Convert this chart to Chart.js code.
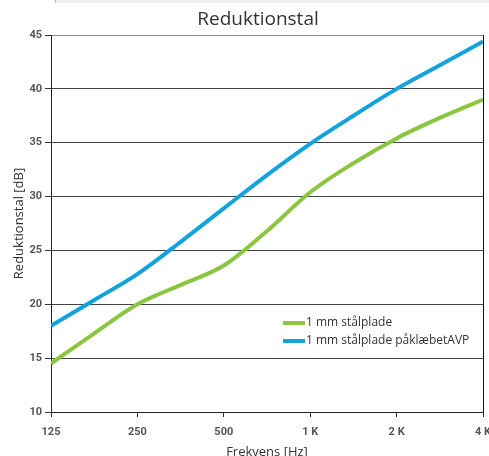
<!DOCTYPE html>
<html>
<head>
<meta charset="utf-8">
<script src="https://cdn.jsdelivr.net/npm/chart.js@4/dist/chart.umd.min.js"></script>
<style>
  body { margin: 0; background: #fff; }
  #wrap { position: relative; width: 489px; height: 456px; }
  #strip { position: absolute; left: 55px; top: 0; width: 434px; height: 3px; background: #f0efed; border-left: 1px solid #bbb; }
</style>
</head>
<body>
<div id="wrap">
  <div id="strip"></div>
  <canvas id="chart" width="489" height="456"></canvas>
</div>
<script>
// Frekvenser (Hz) og maalte vaerdier (dB)
var frekvenser = [125, 177, 250, 354, 500, 707, 1000, 1414, 2000, 2828, 4000];
var staalplade = [14.5, 17.3, 20.0, 21.8, 23.6, 26.8, 30.4, 33.1, 35.4, 37.3, 39.0];
var staalpladeAVP = [18.0, 20.4, 22.8, 25.8, 28.9, 32.0, 34.9, 37.5, 40.0, 42.2, 44.4];
var xTicks = [125, 250, 500, 1000, 2000, 4000];
var serieNavne = ["1 mm stålplade", "1 mm stålplade påklæbetAVP"];
var titel = "Reduktionstal";

function punkter(values) {
    return values.map((v, i) => ({ x: frekvenser[i], y: v }));
}

//Titel og legend tegnes selv
var tekstPlugin = {
    id: "tekster",
    afterDraw(chart) {
        var ctx = chart.ctx;
        ctx.save();
        ctx.fillStyle = "#333";
        ctx.textAlign = "center";
        ctx.textBaseline = "middle";
        ctx.font = "19px 'Open Sans'";
        ctx.fillText(titel, 258, 20);
        ctx.textAlign = "left";
        ctx.font = "12px 'Open Sans'";
        chart.data.datasets.forEach((ds, i) => {
            var y = 323 + i * 18;
            ctx.fillStyle = ds.borderColor;
            ctx.fillRect(283, y - 2, 22, 4);
            ctx.fillStyle = "#333";
            ctx.fillText(ds.label, 306, y);
        });
        ctx.restore();
    }
};

new Chart(document.getElementById("chart"), {
    type: "line",
    data: {
        datasets: [{
            label: serieNavne[0],
            data: punkter(staalplade),
            borderColor: "#8cc540",
            borderWidth: 4,
            pointRadius: 0,
            cubicInterpolationMode: "monotone"
        }, {
            label: serieNavne[1],
            data: punkter(staalpladeAVP),
            borderColor: "#12a3dc",
            borderWidth: 4,
            pointRadius: 0,
            cubicInterpolationMode: "monotone"
        }]
    },
    options: {
        responsive: false,
        animation: false,
        layout: { padding: { left: 0, right: 6, top: 35, bottom: 0 } },
        plugins: {
            legend: { display: false },
            tooltip: { enabled: false },
            title: { display: false }
        },
        scales: {
            x: {
                type: "logarithmic",
                min: 125,
                max: 4000,
                afterBuildTicks: scale => { scale.ticks = xTicks.map(v => ({ value: v })); },
                afterFit: scale => {
                    scale.height = 44;
                    scale.paddingRight = 0;
                    scale.paddingLeft = 0;
                },
                ticks: {
                    color: "#555",
                    font: { family: "Roboto", size: 11, weight: "bold" },
                    padding: 9,
                    maxRotation: 0,
                    callback: v => v >= 1000 ? (v / 1000) + " K" : v
                },
                grid: {
                    color: c => c.index === xTicks.length - 1 ? "#111" : "rgba(0,0,0,0)",
                    tickColor: "#333",
                    tickLength: 5
                },
                border: { color: "#222" },
                title: {
                    display: true,
                    text: "Frekvens [Hz]",
                    color: "#333",
                    font: { family: "'Open Sans'", size: 13 },
                    padding: { top: 0, bottom: -4 }
                }
            },
            y: {
                min: 10,
                max: 45,
                afterFit: scale => {
                    scale.width = 51;
                    scale.paddingTop = 0;
                    scale.paddingBottom = 0;
                },
                ticks: {
                    stepSize: 5,
                    color: "#555",
                    font: { family: "Roboto", size: 11, weight: "bold" },
                    padding: 3
                },
                grid: {
                    color: c => c.tick && c.tick.value === 45 ? "#888" : "#444",
                    tickColor: "#333",
                    tickLength: 6
                },
                border: { color: "#222" },
                title: {
                    display: true,
                    text: "Reduktionstal [dB]",
                    color: "#333",
                    font: { family: "'Open Sans'", size: 13 },
                    padding: { top: 11, bottom: 2 }
                }
            }
        }
    },
    plugins: [tekstPlugin]
});
</script>
</body>
</html>
